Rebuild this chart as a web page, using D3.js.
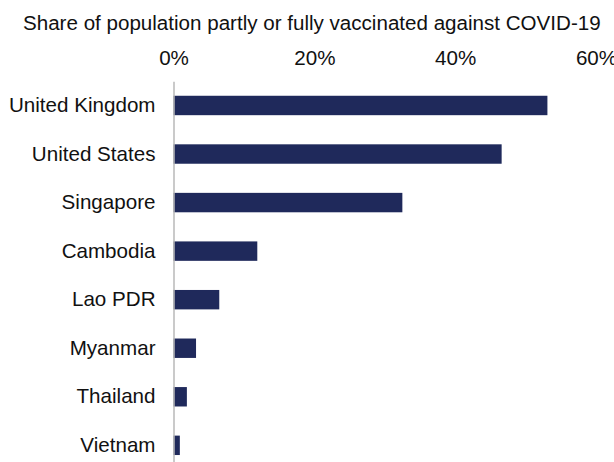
<!DOCTYPE html>
<html><head><meta charset="utf-8">
<script src="https://cdn.jsdelivr.net/npm/d3@7"></script>
<style>body{margin:0;background:#fff}svg{display:block}text{font-family:"Liberation Sans",Arial,sans-serif;fill:#111}</style>
</head><body><svg id="c" width="614" height="462"></svg>
<script>
const title = "Share of population partly or fully vaccinated against COVID-19";
const countries = ["United Kingdom","United States","Singapore","Cambodia","Lao PDR","Myanmar","Thailand","Vietnam"];
const shares = [53.1, 46.6, 32.5, 11.9, 6.5, 3.2, 1.9, 0.9];
const tickValues = [0, 20, 40, 60];
const tickLabels = ["0%","20%","40%","60%"];

const svg = d3.select("#c");
const fs = 20.6;
const x = d3.scaleLinear().domain([0,60]).range([173.5, 596]);
const y = d3.scaleBand().domain(countries).range([81.2, 469.6]).paddingInner(0.6).paddingOuter(0.3);

const t = svg.append("text").attr("x", 23).attr("y", 30).attr("font-size", 20).text(title);
const w = t.node().getComputedTextLength();
t.attr("font-size", 20 * 578 / w);

const xa = svg.append("g").attr("transform","translate(0,65)")
  .call(d3.axisTop(x).tickValues(tickValues).tickFormat((d,i)=>tickLabels[i]).tickSize(0).tickPadding(0));
xa.select(".domain").remove();
xa.selectAll("text").attr("font-size", fs).attr("font-family",'"Liberation Sans",Arial,sans-serif').attr("fill","#111").attr("dy",0);

svg.selectAll("rect.bar").data(countries).join("rect").attr("class","bar")
  .attr("x", x(0)).attr("y", d=>y(d)).attr("height", y.bandwidth())
  .attr("width", (d,i)=>x(shares[i])-x(0)).attr("fill","#1f295b");

const ya = svg.append("g").attr("transform",`translate(${x(0)},0)`)
  .call(d3.axisLeft(y).tickSize(0).tickPadding(18));
ya.select(".domain").attr("stroke","#b8b8b8").attr("stroke-width",1.5);
ya.selectAll("text").attr("font-size", fs).attr("font-family",'"Liberation Sans",Arial,sans-serif').attr("fill","#111");
</script></body></html>
